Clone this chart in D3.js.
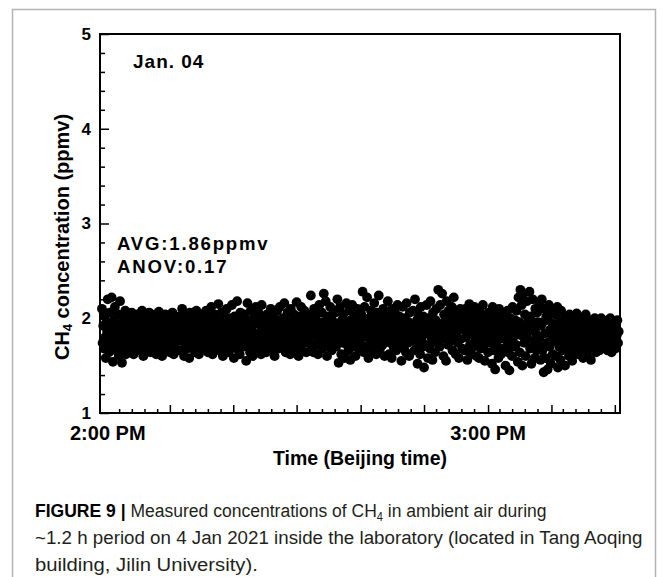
<!DOCTYPE html>
<html>
<head>
<meta charset="utf-8">
<script src="https://cdn.jsdelivr.net/npm/d3@7"></script>
<style>
  body { margin: 0; background: #fff; }
  svg { display: block; }
</style>
</head>
<body>
<div id="chart"></div>
<script>
// CH4 readings (ppmv), one every 0.1 min starting at 2:00 PM + 0.3 min
var ch4Values = [
  2.10,1.74,1.92,1.68,2.02,1.80,1.58,1.96,1.86,2.20,1.72,1.64,2.06,1.90,1.78,2.22,1.84,1.54,1.98,1.70,
  2.12,1.88,1.66,1.94,1.76,2.04,1.60,1.82,2.18,1.72,1.92,1.53,1.86,2.00,1.68,1.78,2.08,1.62,1.96,1.84,
  1.74,2.02,1.88,1.64,1.96,1.80,2.06,1.70,1.90,1.62,1.84,2.00,1.76,1.94,1.68,2.04,1.82,1.72,1.98,1.86,
  1.66,1.92,2.08,1.78,1.60,1.96,1.84,1.72,2.02,1.88,1.68,1.94,1.76,2.06,1.82,1.64,1.90,2.00,1.74,1.86,
  1.98,1.70,1.86,2.04,1.62,1.92,1.80,1.74,2.07,1.88,1.66,1.96,1.82,1.60,2.00,1.76,1.90,1.72,2.04,1.84,
  1.78,1.94,1.68,2.02,1.86,1.64,1.98,1.74,1.90,2.06,1.80,1.62,1.92,1.70,2.00,1.84,1.76,1.96,1.66,1.88,
  2.02,1.82,1.66,1.94,2.10,1.76,1.88,1.60,1.98,1.72,1.86,2.04,1.68,1.92,1.80,1.58,2.06,1.84,1.74,1.96,
  1.88,1.70,2.00,1.78,1.64,1.94,2.08,1.82,1.72,1.98,1.62,1.90,1.76,2.04,1.86,1.68,1.96,1.80,2.02,1.74,
  1.92,2.08,1.74,1.86,1.64,2.00,1.80,1.96,1.70,2.12,1.84,1.62,1.94,1.78,2.04,1.88,1.68,1.98,1.76,1.90,
  2.15,1.82,1.66,1.96,1.74,2.06,1.88,1.60,1.92,1.80,2.02,1.70,1.86,2.10,1.76,1.94,1.64,1.84,2.00,1.78,
  1.86,2.14,1.72,1.94,1.58,2.02,1.80,1.90,1.68,2.18,1.84,1.76,1.98,1.62,2.06,1.88,1.74,1.96,1.82,1.70,
  2.04,1.78,1.92,1.55,1.86,2.16,1.70,1.98,1.82,1.64,2.08,1.90,1.76,1.60,1.94,2.00,1.84,1.72,2.12,1.80,
  1.68,1.96,2.06,1.82,1.74,1.92,1.62,2.14,1.86,1.78,2.00,1.70,1.88,1.96,1.64,2.04,1.80,1.90,1.72,1.98,
  1.84,2.10,1.76,1.66,1.94,1.88,2.02,1.60,1.82,1.98,1.74,2.08,1.90,1.68,1.86,2.12,1.78,1.96,1.70,1.92,
  2.00,1.74,2.16,1.86,1.64,1.96,1.80,2.06,1.70,1.92,1.84,1.62,2.10,1.78,1.98,1.88,1.68,2.04,1.82,1.76,
  1.94,2.17,1.72,1.88,1.60,2.02,1.84,1.76,2.12,1.66,1.96,1.80,1.90,2.08,1.74,1.86,1.64,1.98,2.04,1.82,
  1.76,2.00,1.88,2.24,1.70,1.94,1.82,1.64,2.10,1.86,1.98,1.72,2.04,1.80,1.62,1.92,2.14,1.78,1.90,1.84,
  2.06,1.68,1.96,2.26,1.84,1.74,2.18,1.90,1.60,2.02,1.80,1.94,1.70,2.12,1.86,1.66,1.98,1.76,2.08,1.88,
  1.82,2.06,1.70,1.94,2.20,1.76,1.53,1.90,2.12,1.84,1.62,1.98,1.74,2.04,1.88,1.58,1.96,1.80,2.16,1.72,
  1.92,1.66,2.08,1.86,1.56,1.98,1.78,2.14,1.70,1.90,2.02,1.84,1.60,1.94,1.76,2.10,1.82,1.68,2.00,1.88,
  1.72,2.04,1.90,2.28,1.80,1.64,2.12,1.86,1.96,1.70,2.22,1.82,1.58,2.00,1.92,1.76,2.08,1.84,1.66,1.98,
  1.88,2.16,1.74,1.94,1.62,2.06,1.82,1.90,2.24,1.78,1.68,2.02,1.86,1.96,1.72,2.10,1.80,1.60,1.94,2.04,
  1.96,1.78,2.18,1.86,1.62,2.04,1.74,1.92,1.58,2.10,1.84,1.70,1.98,2.06,1.80,1.66,1.90,2.14,1.76,1.88,
  2.02,1.72,1.94,1.55,1.84,2.12,1.80,1.68,2.00,1.90,1.64,2.16,1.86,1.74,1.96,1.60,2.06,1.82,1.92,1.78,
  1.80,2.08,1.92,1.66,2.20,1.86,1.74,1.98,1.52,2.04,1.84,1.94,1.62,2.12,1.78,1.90,1.70,2.02,1.48,1.88,
  1.96,1.72,2.14,1.84,1.58,2.00,1.90,1.68,2.18,1.80,1.94,1.56,2.06,1.76,1.88,1.64,1.98,2.10,1.82,1.74,
  2.30,1.86,1.70,2.14,1.94,1.78,2.26,1.90,1.60,2.04,1.82,1.98,1.55,2.18,1.88,1.72,2.08,1.94,1.76,2.02,
  1.84,2.12,1.66,1.96,2.22,1.80,1.92,1.62,2.06,1.86,1.74,2.00,1.58,1.90,2.10,1.78,1.96,1.68,2.04,1.88,
  1.90,1.66,2.10,1.80,1.96,1.56,2.04,1.86,2.15,1.72,1.94,1.62,2.06,1.84,1.70,1.98,2.12,1.78,1.88,1.60,
  2.00,1.76,1.92,1.58,2.08,1.84,1.68,1.96,1.80,2.14,1.70,1.90,1.55,2.02,1.86,1.74,1.94,1.64,2.06,1.82,
  2.02,1.74,1.90,1.52,2.12,1.86,1.66,1.98,1.46,1.80,2.06,1.70,1.94,1.58,2.10,1.78,1.88,1.62,2.00,1.84,
  1.92,1.68,2.04,1.82,1.50,1.96,1.76,2.08,1.64,1.88,1.45,2.00,1.72,1.86,1.60,2.12,1.80,1.94,1.70,1.98,
  1.72,2.08,1.88,1.54,2.22,1.96,1.64,2.30,1.82,2.14,1.50,2.26,1.92,1.74,2.04,1.60,1.88,2.18,1.78,1.98,
  1.86,2.28,1.68,2.02,1.52,1.94,2.20,1.76,1.90,1.58,2.10,1.84,1.66,2.06,1.96,1.72,2.16,1.80,1.56,1.92,
  2.20,1.66,1.96,1.43,2.10,1.84,1.58,2.02,1.74,1.46,1.98,2.14,1.70,1.88,1.52,2.06,1.80,1.62,1.94,1.86,
  1.76,2.04,1.60,1.90,2.12,1.48,1.84,1.70,1.98,1.56,2.08,1.78,1.66,1.94,1.82,2.00,1.50,1.88,1.72,1.96,
  1.74,1.98,1.60,2.04,1.82,1.68,1.92,1.55,2.02,1.78,1.88,1.64,1.96,1.72,2.05,1.80,1.62,1.94,1.74,1.86,
  1.90,1.66,2.00,1.80,1.58,1.96,1.84,1.70,2.04,1.76,1.62,1.92,1.86,1.68,1.98,1.78,1.56,1.94,1.82,1.72,
  1.88,1.70,2.00,1.80,1.64,1.96,1.84,1.72,1.98,1.66,1.90,1.78,2.00,1.68,1.92,1.82,1.74,1.96,1.84,1.70,
  1.94,1.76,1.66,1.98,1.86,1.72,2.00,1.80,1.64,1.92,1.84,1.70,1.96,1.78,1.68,1.90,1.82,1.98,1.74,1.86
];
var startMin = 0.3, stepMin = 0.1;

var yMajorTicks = [1, 2, 3, 4, 5];
var xMajorTicks = [10.8, 20.6, 30.4, 40.3, 50.1, 60.0, 69.8, 79.6];   // minutes after 2:00 PM
var xTickLabels = [{ t: 1.2, text: "2:00 PM" }, { t: 60.0, text: "3:00 PM" }];

var width = 665, height = 577;
var margin = { left: 100, top: 34, right: 45, bottom: 164 };
var plotW = width - margin.left - margin.right;
var plotH = height - margin.top - margin.bottom;
var font = "'Liberation Sans', Arial, sans-serif";

var svg = d3.select("#chart").append("svg")
    .attr("width", width)
    .attr("height", height);

// marco gris de la figura
svg.append("path")
    .attr("d", "M12.5,590 V9.5 H655.5 V590")
    .attr("fill", "none")
    .attr("stroke", "#b4b4b4")
    .attr("stroke-width", 1.5);

var x = d3.scaleLinear().domain([0, 80.4]).range([0, plotW]);
var y = d3.scaleLinear().domain([1, 5]).range([plotH, 0]);

var g = svg.append("g").attr("transform", "translate(" + margin.left + "," + margin.top + ")");

// puntos
g.append("g").selectAll("circle")
    .data(ch4Values)
    .enter().append("circle")
    .attr("cx", function(d, i) { return x(startMin + i * stepMin); })
    .attr("cy", function(d) { return y(d); })
    .attr("r", 4.9)
    .attr("fill", "#000");

// eje Y: ticks menores y mayores hacia dentro
var yMinor = d3.range(1, 5.001, 0.2).filter(function(v) { return Math.abs(v - Math.round(v)) > 0.01; });
g.append("g")
    .call(d3.axisLeft(y).tickValues(yMinor).tickSize(-5).tickFormat(""))
    .call(function(s) { s.select(".domain").remove(); })
    .selectAll("line").attr("stroke-width", 1.5);

var yAxis = g.append("g")
    .call(d3.axisLeft(y).tickValues(yMajorTicks).tickSize(-9).tickPadding(9).tickFormat(d3.format("d")));
yAxis.select(".domain").remove();
yAxis.selectAll("line").attr("stroke-width", 1.5);
yAxis.selectAll("text")
    .attr("font-family", font)
    .attr("font-weight", "bold")
    .attr("font-size", 17)
    .attr("fill", "#000");

// eje X
var xMinor = [];
var majStep = xMajorTicks[1] - xMajorTicks[0];
for (var k = -5; k < (xMajorTicks.length - 1) * 5 + 1; k++) {
    if (k % 5 !== 0) {
        var v = xMajorTicks[0] + k * majStep / 5;
        if (v > 0.5 && v < 80.4) xMinor.push(v);
    }
}
g.append("g")
    .attr("transform", "translate(0," + plotH + ")")
    .call(d3.axisBottom(x).tickValues(xMinor).tickSize(-4).tickFormat(""))
    .call(function(s) { s.select(".domain").remove(); })
    .selectAll("line").attr("stroke-width", 1.5);

g.append("g")
    .attr("transform", "translate(0," + plotH + ")")
    .call(d3.axisBottom(x).tickValues(xMajorTicks).tickSize(-8).tickFormat(""))
    .call(function(s) { s.select(".domain").remove(); })
    .selectAll("line").attr("stroke-width", 1.5);

g.selectAll("text.xlab")
    .data(xTickLabels)
    .enter().append("text")
    .attr("class", "xlab")
    .attr("x", function(d) { return x(d.t); })
    .attr("y", plotH + 27)
    .attr("text-anchor", "middle")
    .attr("font-family", font)
    .attr("font-weight", "bold")
    .attr("font-size", 20)
    .text(function(d) { return d.text; });

// caja del grafico
g.append("rect")
    .attr("width", plotW)
    .attr("height", plotH)
    .attr("fill", "none")
    .attr("stroke", "#000")
    .attr("stroke-width", 2);

// titulos de ejes
svg.append("text")
    .attr("x", margin.left + plotW / 2)
    .attr("y", 465)
    .attr("text-anchor", "middle")
    .attr("font-family", font)
    .attr("font-weight", "bold")
    .attr("font-size", 19.5)
    .text("Time (Beijing time)");

var yTitle = svg.append("text")
    .attr("transform", "translate(69,237) rotate(-90)")
    .attr("text-anchor", "middle")
    .attr("font-family", font)
    .attr("font-weight", "bold")
    .attr("font-size", 20);
yTitle.append("tspan").text("CH");
yTitle.append("tspan").attr("font-size", 13).attr("dy", 3).text("4");
yTitle.append("tspan").attr("dy", -3).text(" concentration (ppmv)");

// anotaciones
svg.append("text")
    .attr("x", 133).attr("y", 68)
    .attr("font-family", font).attr("font-weight", "bold")
    .attr("font-size", 19).attr("letter-spacing", 1)
    .text("Jan. 04");

svg.append("text")
    .attr("x", 117).attr("y", 250)
    .attr("font-family", font).attr("font-weight", "bold")
    .attr("font-size", 18.6).attr("letter-spacing", 1.8)
    .text("AVG:1.86ppmv");

svg.append("text")
    .attr("x", 117).attr("y", 273)
    .attr("font-family", font).attr("font-weight", "bold")
    .attr("font-size", 18.6).attr("letter-spacing", 1.8)
    .text("ANOV:0.17");

// pie de figura (letra estrecha: se comprime en horizontal)
function fitWidth(t, left, base, target) {
    var w = t.node().getComputedTextLength();
    t.attr("transform", "translate(" + left + "," + base + ") scale(" + (target / w) + ",1)");
}
var cap1 = svg.append("text")
    .attr("font-family", font).attr("font-size", 19)
    .attr("fill", "#231f20");
cap1.append("tspan").attr("font-weight", "bold").attr("fill", "#000").text("FIGURE 9 | ");
cap1.append("tspan").text("Measured concentrations of CH");
cap1.append("tspan").attr("font-size", 12).attr("dy", 4).text("4");
cap1.append("tspan").attr("dy", -4).text(" in ambient air during");
fitWidth(cap1, 35, 517, 512);

var cap2 = svg.append("text")
    .attr("font-family", font).attr("font-size", 19)
    .attr("fill", "#231f20")
    .text("~1.2 h period on 4 Jan 2021 inside the laboratory (located in Tang Aoqing");
fitWidth(cap2, 35, 544, 608);

var cap3 = svg.append("text")
    .attr("font-family", font).attr("font-size", 19)
    .attr("fill", "#231f20")
    .text("building, Jilin University).");
fitWidth(cap3, 35, 571, 223);
</script>
</body>
</html>
